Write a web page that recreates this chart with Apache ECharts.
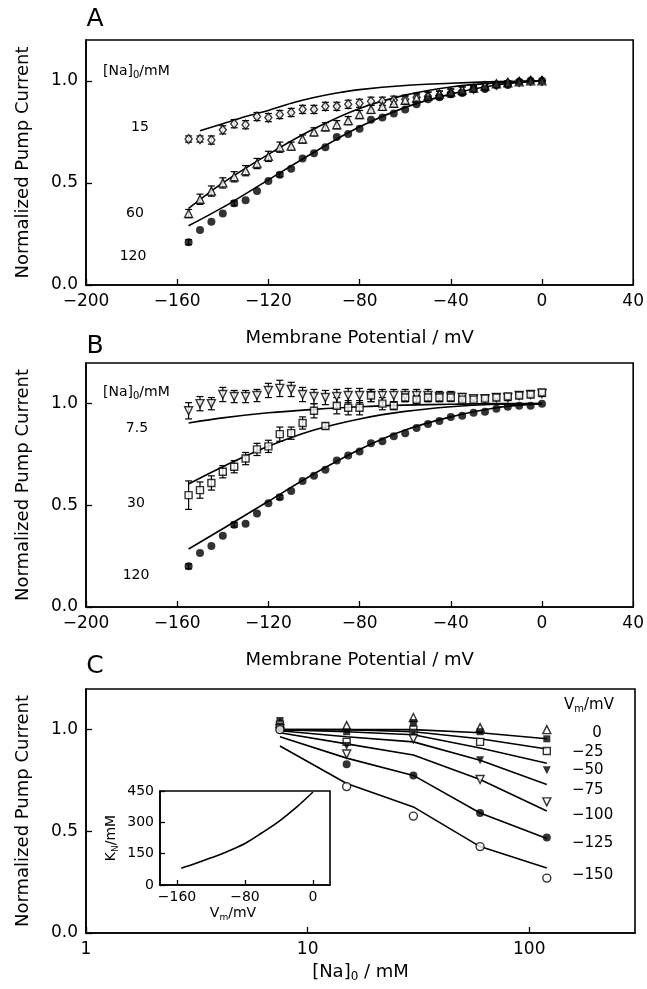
<!DOCTYPE html>
<html>
<head>
<meta charset="utf-8">
<script src="https://cdn.jsdelivr.net/npm/echarts@6/dist/echarts.min.js"></script>
<style>
  html, body { margin: 0; padding: 0; background: #fff; }
  #chart { width: 647px; height: 989px; }
</style>
</head>
<body>
<div id="chart"></div>
<script>
// membrane potentials (mV) for panels A and B
const vm = [-155, -150, -145, -140, -135, -130, -125, -120, -115, -110, -105, -100, -95, -90, -85, -80,
            -75, -70, -65, -60, -55, -50, -45, -40, -35, -30, -25, -20, -15, -10, -5, 0];

// panel A, [Na]o = 15, 60, 120 mM
const a15 = [0.715, 0.715, 0.71, 0.76, 0.79, 0.785, 0.825, 0.82, 0.835, 0.845, 0.86, 0.86, 0.875, 0.875, 0.885, 0.89,
             0.90, 0.90, 0.905, 0.91, 0.92, 0.925, 0.93, 0.94, 0.95, 0.96, 0.97, 0.98, 0.99, 0.995, 1.0, 1.0];
const a15err = [0.015, 0.015, 0.02, 0.02, 0.02, 0.02, 0.02, 0.02, 0.02, 0.02, 0.02, 0.02, 0.02, 0.02, 0.02, 0.02,
                0.02, 0.02, 0.02, 0.02, 0.02, 0.02, 0.02, 0.02, 0.02, 0.015, 0.015, 0.01, 0.01, 0.01, 0, 0];
const a60 = [0.35, 0.42, 0.46, 0.50, 0.53, 0.56, 0.595, 0.63, 0.675, 0.68, 0.715, 0.75, 0.775, 0.785, 0.805, 0.835,
             0.86, 0.875, 0.89, 0.905, 0.915, 0.925, 0.935, 0.945, 0.955, 0.965, 0.975, 0.985, 0.99, 0.995, 1.0, 1.0];
const a60err = [0.02, 0.025, 0.025, 0.025, 0.025, 0.025, 0.025, 0.025, 0.025, 0.02, 0.02, 0.02, 0.02, 0.02, 0.02, 0.02,
                0.02, 0.02, 0.02, 0.02, 0.02, 0.02, 0.015, 0.015, 0.015, 0.01, 0.01, 0.01, 0.01, 0, 0, 0];
const a120 = [0.21, 0.27, 0.31, 0.35, 0.40, 0.415, 0.46, 0.51, 0.54, 0.57, 0.62, 0.645, 0.675, 0.725, 0.74, 0.765,
              0.81, 0.82, 0.84, 0.86, 0.885, 0.91, 0.92, 0.935, 0.94, 0.96, 0.96, 0.98, 0.98, 0.995, 1.0, 1.0];
const a120err = [0.012, 0, 0, 0, 0.012, 0, 0, 0, 0.01, 0, 0, 0, 0, 0, 0, 0,
                 0, 0, 0, 0, 0, 0, 0, 0, 0, 0, 0, 0, 0, 0, 0, 0];
const fitA15 = [[-150, 0.755], [-140, 0.79], [-130, 0.825], [-120, 0.855], [-110, 0.89], [-100, 0.918],
                [-90, 0.94], [-80, 0.957], [-60, 0.977], [-40, 0.988], [-20, 0.996], [0, 1.0]];
const fitA60 = [[-155, 0.375], [-140, 0.50], [-120, 0.64], [-100, 0.765], [-80, 0.865], [-60, 0.93],
                [-40, 0.97], [-20, 0.99], [0, 1.0]];
const fitA120 = [[-155, 0.29], [-140, 0.38], [-120, 0.515], [-100, 0.65], [-80, 0.775], [-60, 0.87],
                 [-40, 0.935], [-20, 0.98], [0, 1.0]];

// panel B, [Na]o = 7.5, 30, 120 mM
const b75 = [0.965, 1.0, 1.0, 1.045, 1.035, 1.035, 1.04, 1.065, 1.075, 1.07, 1.045, 1.035, 1.03, 1.035, 1.04, 1.04,
             1.04, 1.04, 1.04, 1.04, 1.04, 1.04, 1.035, 1.035, 1.03, 1.025, 1.025, 1.03, 1.03, 1.04, 1.045, 1.05];
const b75err = [0.04, 0.035, 0.03, 0.035, 0.03, 0.03, 0.03, 0.035, 0.04, 0.035, 0.035, 0.035, 0.035, 0.035, 0.035, 0.035,
                0.03, 0.03, 0.03, 0.03, 0.03, 0.03, 0.025, 0.025, 0.02, 0.015, 0.015, 0.015, 0.015, 0.015, 0.015, 0.015];
const b30 = [0.55, 0.575, 0.61, 0.665, 0.69, 0.73, 0.775, 0.79, 0.85, 0.855, 0.905, 0.965, 0.89, 0.99, 0.98, 0.98,
             1.04, 1.0, 0.99, 1.03, 1.02, 1.03, 1.03, 1.03, 1.02, 1.02, 1.025, 1.03, 1.035, 1.04, 1.045, 1.055];
const b30err = [0.07, 0.04, 0.035, 0.03, 0.03, 0.03, 0.03, 0.03, 0.035, 0.03, 0.03, 0.035, 0.015, 0.04, 0.035, 0.035,
                0.03, 0.03, 0.02, 0.02, 0.02, 0.02, 0.02, 0.015, 0.01, 0.01, 0.01, 0.01, 0.01, 0.01, 0.01, 0.01];
const b120 = [0.20, 0.265, 0.30, 0.35, 0.405, 0.41, 0.46, 0.51, 0.54, 0.57, 0.62, 0.645, 0.675, 0.72, 0.745, 0.765,
              0.805, 0.815, 0.84, 0.855, 0.88, 0.90, 0.915, 0.935, 0.94, 0.955, 0.96, 0.975, 0.985, 0.99, 0.99, 1.0];
const b120err = [0.012, 0, 0, 0, 0.012, 0, 0, 0, 0.01, 0, 0, 0, 0, 0, 0, 0,
                 0, 0, 0, 0, 0, 0, 0, 0, 0, 0, 0, 0, 0, 0, 0, 0];
const fitB75 = [[-155, 0.905], [-140, 0.93], [-120, 0.955], [-100, 0.972], [-80, 0.985], [-60, 0.993],
                [-40, 0.997], [-20, 1.0], [0, 1.0]];
const fitB30 = [[-155, 0.605], [-140, 0.69], [-120, 0.79], [-100, 0.87], [-80, 0.925], [-60, 0.962],
                [-40, 0.985], [-20, 0.997], [0, 1.0]];
const fitB120 = [[-155, 0.285], [-140, 0.385], [-120, 0.52], [-100, 0.655], [-80, 0.775], [-60, 0.87],
                 [-40, 0.935], [-20, 0.98], [0, 1.0]];

// panel C, current vs [Na]o at fixed Vm
const naC = [7.5, 15, 30, 60, 120];
const c0 = [1.03, 1.02, 1.06, 1.01, 1.0];
const c25 = [1.045, 0.99, 1.035, 0.99, 0.955];
const c50 = [1.025, 0.94, 1.0, 0.94, 0.895];
const c75 = [1.015, 0.92, 0.985, 0.85, 0.80];
const c100 = [1.005, 0.88, 0.955, 0.755, 0.645];
const c125 = [1.0, 0.83, 0.775, 0.59, 0.47];
const c150 = [1.0, 0.72, 0.575, 0.425, 0.27];
const fitC0 = [1.0, 1.0, 1.0, 0.985, 0.955];
const fitC25 = [1.0, 1.0, 0.99, 0.955, 0.905];
const fitC50 = [1.0, 0.99, 0.975, 0.91, 0.835];
const fitC75 = [0.995, 0.965, 0.94, 0.85, 0.73];
const fitC100 = [0.985, 0.93, 0.875, 0.755, 0.60];
const fitC125 = [0.965, 0.86, 0.775, 0.59, 0.465];
const fitC150 = [0.92, 0.735, 0.62, 0.425, 0.32];
const vmLabels = ['0', '\u221225', '\u221250', '\u221275', '\u2212100', '\u2212125', '\u2212150'];

// inset: K_N vs Vm
const insetV = [-155, -140, -120, -100, -80, -60, -40, -20, 0];
const insetK = [80, 100, 130, 162, 199, 250, 305, 370, 445];

const FONT = 'DejaVu Sans';
const minus = v => (v < 0 ? '\u2212' + Math.abs(v) : String(v));
const pairs = (xs, ys) => xs.map((x, i) => [x, ys[i]]);
const bars = (xs, ys, es) => xs.map((x, i) => [x, ys[i] - es[i], ys[i] + es[i]]).filter((d, i) => es[i] > 0);

function errItem(params, api) {
  const x = api.value(0);
  const hi = api.coord([x, api.value(2)]);
  const lo = api.coord([x, api.value(1)]);
  const w = 3.5;
  const st = { stroke: '#000', lineWidth: 1.2 };
  return {
    type: 'group',
    children: [
      { type: 'line', shape: { x1: hi[0], y1: hi[1], x2: lo[0], y2: lo[1] }, style: st },
      { type: 'line', shape: { x1: hi[0] - w, y1: hi[1], x2: hi[0] + w, y2: hi[1] }, style: st },
      { type: 'line', shape: { x1: lo[0] - w, y1: lo[1], x2: lo[0] + w, y2: lo[1] }, style: st }
    ]
  };
}

function errSeries(ax, data) {
  return { type: 'custom', xAxisIndex: ax, yAxisIndex: ax, data: data, renderItem: errItem,
           encode: { x: 0, y: [1, 2] }, z: 4, silent: true };
}

function marks(ax, data, symbol, size, filled, rotate) {
  return {
    type: 'scatter', xAxisIndex: ax, yAxisIndex: ax, data: data,
    symbol: symbol, symbolSize: size, symbolRotate: rotate || 0,
    itemStyle: filled ? { color: '#000', borderWidth: 0 }
                      : { color: '#fff', borderColor: '#000', borderWidth: 1.4 },
    z: 5, silent: true
  };
}

function fit(ax, data, smooth) {
  return { type: 'line', xAxisIndex: ax, yAxisIndex: ax, data: data, smooth: smooth,
           showSymbol: false, symbol: 'none', lineStyle: { color: '#000', width: 1.6 }, z: 3, silent: true };
}

const tick = { inside: true, length: 6, lineStyle: { color: '#000', width: 1.3 } };
const line = { show: true, onZero: false, lineStyle: { color: '#000', width: 1.6 } };
const sub = {
  a: { fontFamily: FONT, fontSize: 18, color: '#000' },
  s: { fontFamily: FONT, fontSize: 12, color: '#000', padding: [10, 0, 0, 0] }
};

function potAxis(g) {
  return {
    type: 'value', gridIndex: g, min: -200, max: 40, interval: 40,
    axisLine: line, axisTick: tick, splitLine: { show: false },
    axisLabel: { fontFamily: FONT, fontSize: 17, color: '#000', margin: 8, formatter: minus },
    name: 'Membrane Potential / mV', nameLocation: 'middle', nameGap: 44,
    nameTextStyle: { fontFamily: FONT, fontSize: 18, color: '#000' }
  };
}

function ampAxis(g) {
  return {
    type: 'value', gridIndex: g, min: 0, max: 1.2, interval: 0.5,
    axisLine: line, axisTick: tick, splitLine: { show: false },
    axisLabel: {
      fontFamily: FONT, fontSize: 17, color: '#000', margin: 8, showMaxLabel: false,
      formatter: v => (Math.abs(v * 2 - Math.round(v * 2)) < 1e-6 ? v.toFixed(1) : '')
    },
    name: 'Normalized Pump Current', nameLocation: 'middle', nameRotate: 90, nameGap: 54,
    nameTextStyle: { fontFamily: FONT, fontSize: 18, color: '#000' }
  };
}

const box = { show: true, borderColor: '#000', borderWidth: 1.6, backgroundColor: 'transparent' };

const graphics = [];
function label(x, y, text, size, align, rich) {
  graphics.push({
    type: 'text', x: x, y: y, silent: true,
    style: { text: text, fontFamily: FONT, fontSize: size, fill: '#000',
             textAlign: align || 'center', textVerticalAlign: 'middle', rich: rich }
  });
}
const richSmall = {
  a: { fontFamily: FONT, fontSize: 14, color: '#000' },
  s: { fontFamily: FONT, fontSize: 10, color: '#000', padding: [8, 0, 0, 0] }
};

label(95, 19, 'A', 25);
label(95, 346, 'B', 25);
label(95, 666, 'C', 25);
label(103, 71, '{a|[Na]}{s|0}{a|/mM}', 14, 'left', richSmall);
label(140, 127, '15', 14);
label(135, 213, '60', 14);
label(133, 256, '120', 14);
label(103, 392, '{a|[Na]}{s|0}{a|/mM}', 14, 'left', richSmall);
label(137, 428, '7.5', 14);
label(136, 503, '30', 14);
label(136, 575, '120', 14);
label(564, 705, '{b|V}{t|m}{b|/mV}', 15, 'left', {
  b: { fontFamily: FONT, fontSize: 15, color: '#000' },
  t: { fontFamily: FONT, fontSize: 10, color: '#000', padding: [9, 0, 0, 0] }
});
const vmLabelY = [733, 752, 770, 790, 815, 843, 875];
vmLabels.forEach((t, i) => {
  if (i === 0) label(597, vmLabelY[i], t, 15);
  else label(572, vmLabelY[i], t, 15, 'left');
});

const chart = echarts.init(document.getElementById('chart'), null, { renderer: 'canvas' });
chart.setOption({
  animation: false,
  backgroundColor: '#fff',
  grid: [
    Object.assign({ left: 86, top: 40, width: 549, height: 245 }, box),
    Object.assign({ left: 86, top: 363, width: 549, height: 244 }, box),
    Object.assign({ left: 86, top: 689, width: 549, height: 244 }, box),
    Object.assign({ left: 160, top: 791, width: 170, height: 94 }, box)
  ],
  xAxis: [
    potAxis(0),
    potAxis(1),
    {
      type: 'log', gridIndex: 2, logBase: 10, min: 1, max: 300,
      axisLine: line, axisTick: tick, splitLine: { show: false }, minorTick: { show: false },
      axisLabel: {
        fontFamily: FONT, fontSize: 17, color: '#000', margin: 8, showMaxLabel: false,
        formatter: v => ([1, 10, 100].indexOf(Math.round(v)) >= 0 ? String(Math.round(v)) : '')
      },
      name: '{a|[Na]}{s|0}{a| / mM}', nameLocation: 'middle', nameGap: 28,
      nameTextStyle: { rich: sub }
    },
    {
      type: 'value', gridIndex: 3, min: -180, max: 20,
      axisLine: line, axisTick: Object.assign({ customValues: [-160, -80, 0] }, tick, { length: 5 }),
      splitLine: { show: false },
      axisLabel: { customValues: [-160, -80, 0], fontFamily: FONT, fontSize: 14, color: '#000', margin: 5, formatter: minus },
      name: '{b|V}{t|m}{b|/mV}', nameLocation: 'middle', nameGap: 20,
      nameTextStyle: { padding: [0, 24, 0, 0], rich: {
        b: { fontFamily: FONT, fontSize: 14, color: '#000' },
        t: { fontFamily: FONT, fontSize: 9, color: '#000', padding: [8, 0, 0, 0] } } }
    }
  ],
  yAxis: [
    ampAxis(0),
    ampAxis(1),
    ampAxis(2),
    {
      type: 'value', gridIndex: 3, min: 0, max: 450, interval: 150,
      axisLine: line, axisTick: Object.assign({}, tick, { length: 5 }), splitLine: { show: false },
      axisLabel: { fontFamily: FONT, fontSize: 14, color: '#000', margin: 6 },
      name: '{b|K}{t|N}{b|/mM}', nameLocation: 'middle', nameRotate: 90, nameGap: 40,
      nameTextStyle: { rich: {
        b: { fontFamily: FONT, fontSize: 14, color: '#000' },
        t: { fontFamily: FONT, fontSize: 9, color: '#000', padding: [8, 0, 0, 0] } } }
    }
  ],
  graphic: graphics,
  series: [
    // panel A
    fit(0, fitA15, 0.3), fit(0, fitA60, 0.3), fit(0, fitA120, 0.3),
    errSeries(0, bars(vm, a15, a15err)),
    errSeries(0, bars(vm, a60, a60err)),
    errSeries(0, bars(vm, a120, a120err)),
    marks(0, pairs(vm, a15), 'diamond', [7, 9], false),
    marks(0, pairs(vm, a60), 'triangle', 8, false),
    marks(0, pairs(vm, a120), 'circle', 8, true),
    // panel B
    fit(1, fitB75, 0.3), fit(1, fitB30, 0.3), fit(1, fitB120, 0.3),
    errSeries(1, bars(vm, b75, b75err)),
    errSeries(1, bars(vm, b30, b30err)),
    errSeries(1, bars(vm, b120, b120err)),
    marks(1, pairs(vm, b75), 'triangle', 8, false, 180),
    marks(1, pairs(vm, b30), 'rect', 7, false),
    marks(1, pairs(vm, b120), 'circle', 8, true),
    // panel C
    fit(2, pairs(naC, fitC0), false), fit(2, pairs(naC, fitC25), false),
    fit(2, pairs(naC, fitC50), false), fit(2, pairs(naC, fitC75), false),
    fit(2, pairs(naC, fitC100), false), fit(2, pairs(naC, fitC125), false),
    fit(2, pairs(naC, fitC150), false),
    marks(2, pairs(naC, c0), 'triangle', 8, false),
    marks(2, pairs(naC, c25), 'rect', 7, true),
    marks(2, pairs(naC, c50), 'rect', 7, false),
    marks(2, pairs(naC, c75), 'triangle', 8, true, 180),
    marks(2, pairs(naC, c100), 'triangle', 8, false, 180),
    marks(2, pairs(naC, c125), 'circle', 8, true),
    marks(2, pairs(naC, c150), 'circle', 8, false),
    // inset
    fit(3, pairs(insetV, insetK), 0.3)
  ]
});
</script>
</body>
</html>
